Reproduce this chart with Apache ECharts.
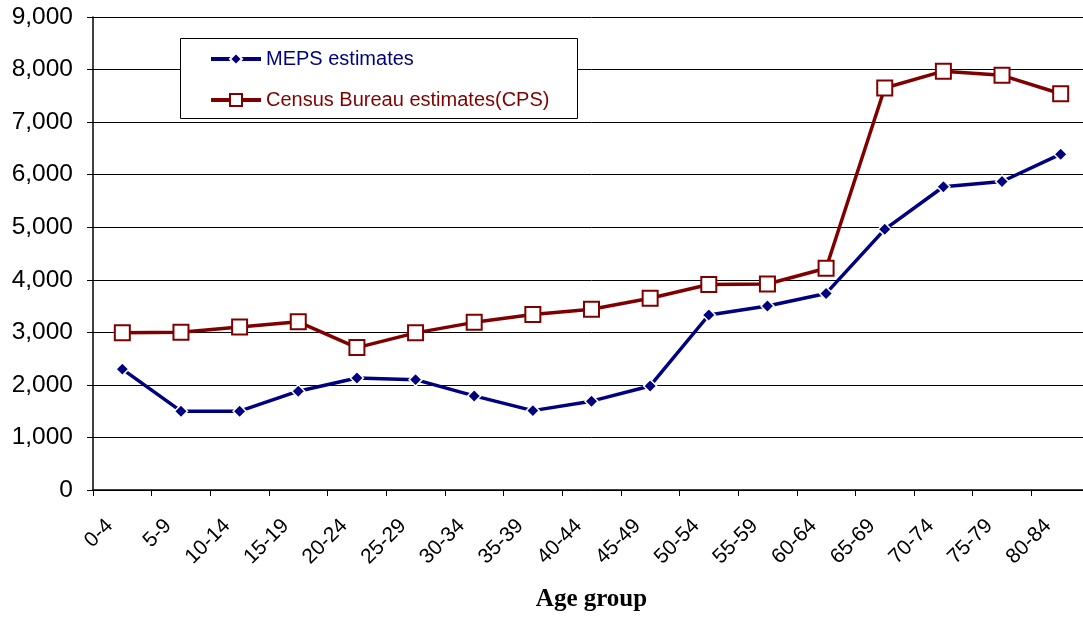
<!DOCTYPE html>
<html>
<head>
<meta charset="utf-8">
<script src="https://cdn.jsdelivr.net/npm/echarts@6/dist/echarts.min.js"></script>
<style>
  html, body { margin: 0; padding: 0; background: #fff; overflow: hidden; }
  /* the drawing surface is slightly wider than the window so the plot runs off the right edge */
  #chart { width: 1090px; height: 617px; }
</style>
</head>
<body>
<div id="chart"></div>
<script>
// Age groups on the category axis
const ageGroups = ['0-4', '5-9', '10-14', '15-19', '20-24', '25-29', '30-34', '35-39',
  '40-44', '45-49', '50-54', '55-59', '60-64', '65-69', '70-74', '75-79', '80-84'];

// Estimates per age group
const mepsEstimates = [2300, 1500, 1500, 1880, 2130, 2100, 1790, 1510, 1690, 1980,
  3330, 3500, 3740, 4960, 5770, 5870, 6390];
const censusEstimates = [2990, 3000, 3100, 3200, 2710, 2990, 3190, 3340, 3440, 3650,
  3910, 3920, 4220, 7650, 7970, 7890, 7540];

const seriesNames = ['MEPS estimates', 'Census Bureau estimates(CPS)'];
const NAVY = '#000080';
const MAROON = '#800000';

const chart = echarts.init(document.getElementById('chart'), null, { renderer: 'canvas' });

chart.setOption({
  animation: false,
  backgroundColor: '#ffffff',
  grid: { left: 93, right: 0, top: 17, bottom: 125, containLabel: false },
  graphic: [{
    type: 'rect',
    left: 180, top: 38,
    shape: { width: 397, height: 80 },
    style: { fill: '#ffffff', stroke: '#000000', lineWidth: 1 },
    z: 10
  }],
  legend: {
    orient: 'vertical',
    left: 204, top: 44,
    itemWidth: 50, itemHeight: 15, itemGap: 21,
    lineStyle: { width: 4 },
    textStyle: { fontFamily: 'Liberation Sans, Arial', fontSize: 20 },
    data: [
      { name: seriesNames[0], textStyle: { color: NAVY } },
      { name: seriesNames[1], textStyle: { color: MAROON } }
    ],
    z: 11
  },
  xAxis: {
    type: 'category',
    data: ageGroups,
    boundaryGap: true,
    axisLine: { lineStyle: { color: '#000', width: 1.5 } },
    axisTick: { show: true, interval: 0, length: 6, lineStyle: { color: '#000' } },
    axisLabel: {
      interval: 0, rotate: 45, margin: 20,
      padding: [0, 18, 0, 0],
      color: '#000', fontFamily: 'Liberation Sans, Arial', fontSize: 21
    },
    name: 'Age group',
    nameLocation: 'middle',
    nameGap: 97,
    nameTextStyle: { fontFamily: 'Liberation Serif, Times New Roman', fontWeight: 'bold', fontSize: 25, color: '#000' }
  },
  yAxis: {
    type: 'value',
    min: 0, max: 9000, interval: 1000,
    axisLine: { show: true, lineStyle: { color: '#000', width: 1.5 } },
    axisTick: { show: true, length: 6, lineStyle: { color: '#000' } },
    axisLabel: {
      margin: 20, color: '#000', fontFamily: 'Liberation Sans, Arial', fontSize: 24.5,
      formatter: v => v.toLocaleString('en-US')
    },
    splitLine: { show: true, lineStyle: { color: '#000', width: 1 } }
  },
  series: [
    {
      name: seriesNames[0],
      type: 'line',
      data: mepsEstimates,
      symbol: 'diamond',
      symbolSize: 13,
      lineStyle: { color: NAVY, width: 3.5 },
      itemStyle: { color: NAVY, borderColor: '#ffffff', borderWidth: 1.5 },
      z: 3
    },
    {
      name: seriesNames[1],
      type: 'line',
      data: censusEstimates,
      symbol: 'rect',
      symbolSize: 15,
      lineStyle: { color: MAROON, width: 3.5 },
      itemStyle: { color: '#ffffff', borderColor: MAROON, borderWidth: 2 },
      z: 4
    }
  ]
});
</script>
</body>
</html>
